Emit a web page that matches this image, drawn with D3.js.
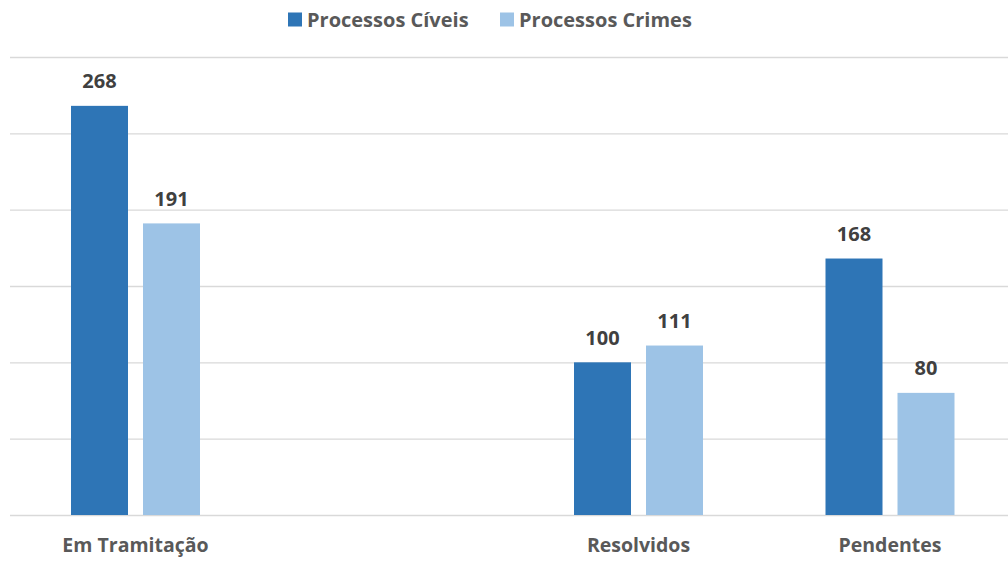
<!DOCTYPE html>
<html>
<head>
<meta charset="utf-8">
<script src="https://cdn.jsdelivr.net/npm/d3@7"></script>
<style>
  html, body { margin: 0; padding: 0; background: #fff; }
  svg { display: block; font-family: "Open Sans", sans-serif; }
</style>
</head>
<body>
<svg id="chart" width="1008" height="563"></svg>
<script>
const categories = ["Em Tramitação", "", "Resolvidos", "Pendentes"];
const seriesNames = ["Processos Cíveis", "Processos Crimes"];
const civeis = [268, null, 100, 168];
const crimes = [191, null, 111, 80];
const yTicks = [0, 50, 100, 150, 200, 250, 300];
const colors = ["#2E75B6", "#9DC3E6"];

const svg = d3.select("#chart");
const W = 1008, H = 563;

const x0 = d3.scaleBand().domain(categories).range([9.75, 1015.75]).paddingInner(0).paddingOuter(0);
const groupW = 129;
const off = (x0.bandwidth() - groupW) / 2;
const x1 = d3.scaleBand().domain(seriesNames).range([off, off + groupW]).paddingInner(15 / 72).paddingOuter(0);
const y = d3.scaleLinear().domain([0, 300]).range([515, 57]);

// gridlines
const yAxis = d3.axisLeft(y).tickValues(yTicks).tickSize(-(W - 10)).tickFormat("");
const gy = svg.append("g").attr("transform", "translate(10,0)").call(yAxis);
gy.select(".domain").remove();
gy.selectAll(".tick line").attr("stroke", "#D9D9D9").attr("stroke-width", 1.3);

const data = categories.map((c, i) => ({ cat: c, vals: [civeis[i], crimes[i]] }));

const groups = svg.append("g").selectAll("g").data(data).join("g")
  .attr("transform", d => `translate(${x0(d.cat)},0)`);

groups.selectAll("rect").data(d => d.vals.map((v, j) => ({ v, s: seriesNames[j], j })).filter(e => e.v != null))
  .join("rect")
  .attr("x", e => x1(e.s))
  .attr("width", x1.bandwidth())
  .attr("y", e => y(e.v))
  .attr("height", e => y(0) - y(e.v))
  .attr("fill", e => colors[e.j]);

groups.selectAll("text.lbl").data(d => d.vals.map((v, j) => ({ v, s: seriesNames[j], j })).filter(e => e.v != null))
  .join("text")
  .attr("class", "lbl")
  .attr("x", e => x1(e.s) + x1.bandwidth() / 2)
  .attr("y", e => y(e.v) - 17.5)
  .attr("text-anchor", "middle")
  .attr("font-size", 20)
  .attr("font-weight", "bold")
  .attr("fill", "#404040")
  .text(e => e.v);

// x axis labels
const xAxis = d3.axisBottom(x0).tickSize(0).tickPadding(0);
const gx = svg.append("g").attr("transform", "translate(0,552)").call(xAxis);
gx.select(".domain").remove();
gx.selectAll(".tick text")
  .attr("dy", 0)
  .attr("y", 0)
  .attr("font-family", "Open Sans, sans-serif")
  .attr("font-size", 19.5)
  .attr("font-weight", "bold")
  .attr("fill", "#595959");

// legend
const legendX = [288, 500];
const lg = svg.append("g");
seriesNames.forEach((s, i) => {
  lg.append("rect").attr("x", legendX[i]).attr("y", 12.5).attr("width", 14).attr("height", 14).attr("fill", colors[i]);
  lg.append("text").attr("x", legendX[i] + 19).attr("y", 26.7)
    .attr("font-size", 20).attr("font-weight", "bold").attr("fill", "#595959").text(s);
});
</script>
</body>
</html>
